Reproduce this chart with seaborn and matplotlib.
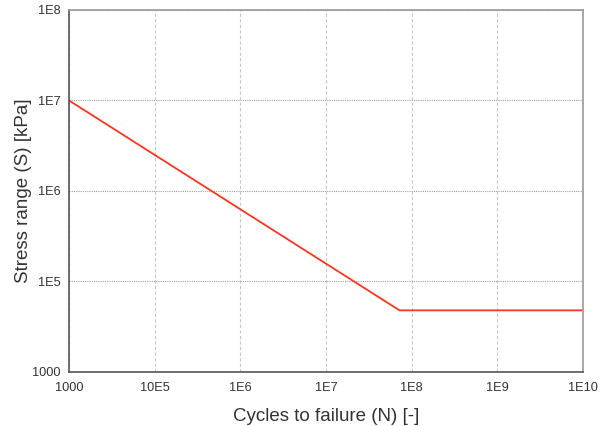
import numpy as np
import matplotlib
matplotlib.use("Agg")
import matplotlib.pyplot as plt
import seaborn as sns
import pandas as pd

# S-N curve points (cycles, stress range)
cycles = [1e4, 7.2e7, 1e10]
stress = [1e7, 4.8e4, 4.8e4]

x_ticks = [1e4, 1e5, 1e6, 1e7, 1e8, 1e9, 1e10]
x_tick_labels = ["1000", "10E5", "1E6", "1E7", "1E8", "1E9", "1E10"]
y_ticks = [1e4, 1e5, 1e6, 1e7, 1e8]
y_tick_labels = ["1000", "1E5", "1E6", "1E7", "1E8"]

sns.set_style("white")
plt.rcParams['font.family'] = ['Liberation Sans', 'DejaVu Sans']

df = pd.DataFrame({"N": cycles, "S": stress})

fig = plt.figure(figsize=(6.08, 4.26), dpi=100)
ax = fig.add_axes([69 / 608, 1 - 372 / 426, (583 - 69) / 608, (372 - 10) / 426])

sns.lineplot(data=df, x="N", y="S", ax=ax, color="#ff3322", linewidth=1.3)

ax.set_xscale("log")
ax.set_yscale("log")
ax.set_xlim(1e4, 1e10)
ax.set_ylim(1e4, 1e8)

ax.set_xticks(x_ticks)
ax.set_xticklabels(x_tick_labels)
ax.set_yticks(y_ticks)
ax.set_yticklabels(y_tick_labels)
ax.minorticks_off()

ax.xaxis.grid(True, color="#c8c8c8", linestyle=(0, (3, 2)), linewidth=0.8)
ax.yaxis.grid(True, color="#a0a0a0", linestyle=(0, (1, 1)), linewidth=0.8)
ax.set_axisbelow(True)

for side in ["left", "bottom"]:
    ax.spines[side].set_color("#555555")
    ax.spines[side].set_linewidth(1.2)
for side in ["top", "right"]:
    ax.spines[side].set_color("#999999")
    ax.spines[side].set_linewidth(1.2)

ax.tick_params(axis="both", labelsize=9.2, colors="#333333", length=2, width=0.8)
ax.tick_params(axis="x", pad=5)
ax.tick_params(axis="y", pad=4)

ax.set_xlabel("Cycles to failure (N) [-]", fontsize=13.5, color="#333333")
ax.set_ylabel("Stress range (S) [kPa]", fontsize=13.5, color="#333333")
ax.xaxis.set_label_coords(0.5, -0.099)
ax.yaxis.set_label_coords(-0.072, 0.5)

fig.savefig("out.png", dpi=100)
